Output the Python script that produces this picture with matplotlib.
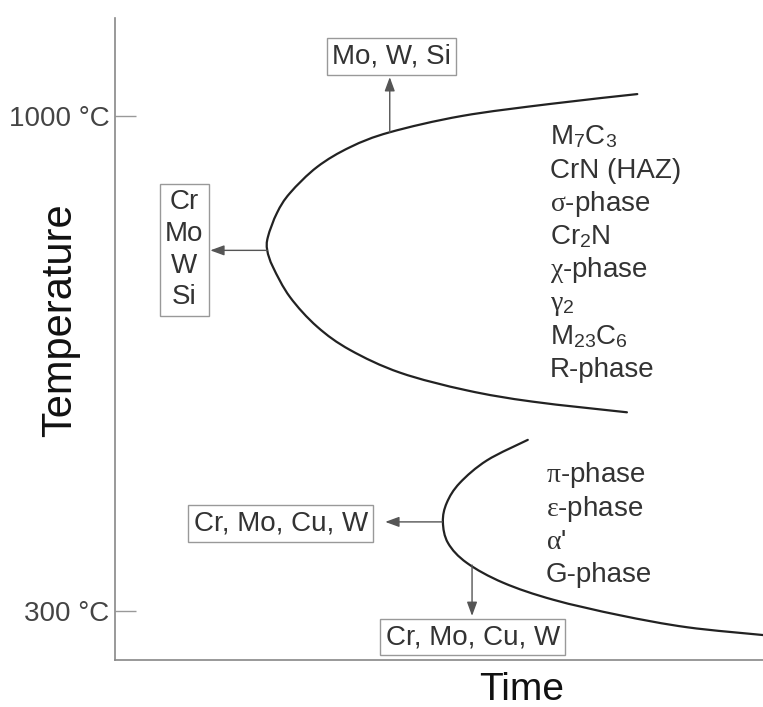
import matplotlib
matplotlib.use("Agg")
import matplotlib.pyplot as plt
from matplotlib.path import Path
from matplotlib.patches import PathPatch
import numpy as np

plt.rcParams['font.family'] = ['Liberation Sans', 'DejaVu Sans']
plt.rcParams['mathtext.fontset'] = 'custom'
plt.rcParams['mathtext.rm'] = 'Liberation Sans'
plt.rcParams['mathtext.it'] = 'Liberation Serif'
plt.rcParams['mathtext.default'] = 'it'

# upper C-curve (time in arbitrary units 0-100, temperature in degC)
upper_time = [80.6, 67.1, 53.5, 42.4, 36.3, 31.2, 27.0, 25.0, 23.6, 23.5,
              24.4, 27.0, 31.2, 36.3, 44.0, 54.3, 64.5, 79.0]
upper_temp = [1031, 1017, 1000, 977, 956, 928, 891, 863, 829, 810,
              786, 744, 702, 669, 637, 612, 596, 581]

# lower C-curve
lower_time = [63.7, 57.4, 53.2, 51.2, 50.6, 51.4, 54.3, 59.9, 67.6, 77.9, 88.3, 100.0]
lower_temp = [542, 513, 481, 453, 426, 396, 368, 340, 316, 294, 277, 266]

upper_phases = ['M$_7$C$_3$', 'CrN (HAZ)', r'$\sigma$-phase', 'Cr$_2$N',
                r'$\chi$-phase', r'$\gamma_2$', 'M$_{23}$C$_6$', 'R-phase']
lower_phases = [r'$\pi$-phase', r'$\epsilon$-phase', r"$\alpha$'", 'G-phase']

tick_temps = [300, 1000]
tick_labels = ['300 °C', '1000 °C']

# (text, box centre time, box centre temp, arrow start time, start temp, arrow tip time, tip temp)
boxes = [
    ('Mo, W, Si', 42.7, 1084, 42.4, 977, 42.4, 1055),
    ('Cr\nMo\nW\nSi', 10.7, 811, 23.5, 810, 14.7, 810),
    ('Cr, Mo, Cu, W', 25.6, 424, 50.5, 426, 41.7, 426),
    ('Cr, Mo, Cu, W', 55.2, 263, 55.1, 365, 55.1, 293),
]


def smooth_curve(xs, ys):
    # catmull-rom through the read points, drawn as bezier segments
    p = np.column_stack([xs, ys]).astype(float)
    n = len(p)
    verts = [p[0]]
    codes = [Path.MOVETO]
    for i in range(n - 1):
        p0 = p[max(i - 1, 0)]
        p1 = p[i]
        p2 = p[i + 1]
        p3 = p[min(i + 2, n - 1)]
        verts += [p1 + (p2 - p0) / 6, p2 - (p3 - p1) / 6, p2]
        codes += [Path.CURVE4] * 3
    return Path(verts, codes)


fig = plt.figure(figsize=(7.63, 7.07), dpi=100)
ax = fig.add_axes([115 / 763, 47 / 707, 648 / 763, 642 / 707])
ax.set_xlim(0, 100)
ax.set_ylim(230.7, 1138.6)

ink = '#222222'
txt = '#333333'
fs = 20

for xs, ys in [(upper_time, upper_temp), (lower_time, lower_temp)]:
    ax.add_patch(PathPatch(smooth_curve(xs, ys), fc='none', ec=ink, lw=1.6,
                           capstyle='round', joinstyle='round'))

for label, bx, by, sx, sy, ex, ey in boxes:
    ax.annotate('', xy=(ex, ey), xytext=(sx, sy),
                arrowprops=dict(arrowstyle='-|>,head_length=0.6,head_width=0.22',
                                color='#555555', lw=1.0, mutation_scale=14,
                                shrinkA=0, shrinkB=0))
    ax.text(bx, by, label, ha='center', va='center', fontsize=fs, color=txt,
            linespacing=1.29,
            bbox=dict(boxstyle='square,pad=0.19', fc='white', ec='#999999', lw=1.0))

# phase lists, baseline spacing ~33 px -> 47 degC
step = 47.0
for i, name in enumerate(upper_phases):
    ax.text(67.1, 960 - i * step, name, ha='left', va='baseline',
            fontsize=fs, color=txt)
for i, name in enumerate(lower_phases):
    ax.text(66.5, 482 - i * step, name, ha='left', va='baseline',
            fontsize=fs, color=txt)

for s in ['top', 'right']:
    ax.spines[s].set_visible(False)
for s in ['left', 'bottom']:
    ax.spines[s].set_color('#888888')
    ax.spines[s].set_linewidth(1.2)

ax.set_xticks([])
ax.set_yticks(tick_temps)
ax.set_yticklabels(tick_labels)
ax.tick_params(axis='y', direction='in', length=15, width=1, color='#999999',
               labelsize=fs, labelcolor='#444444', pad=4)

ax.set_xlabel('Time', fontsize=28, color='#111111', va='center')
ax.xaxis.set_label_coords(0.628, -0.047)
ax.set_ylabel('Temperature', fontsize=30, color='#111111', va='center')
ax.yaxis.set_label_coords(-0.085, 0.53)

fig.savefig('out.png', dpi=100)
